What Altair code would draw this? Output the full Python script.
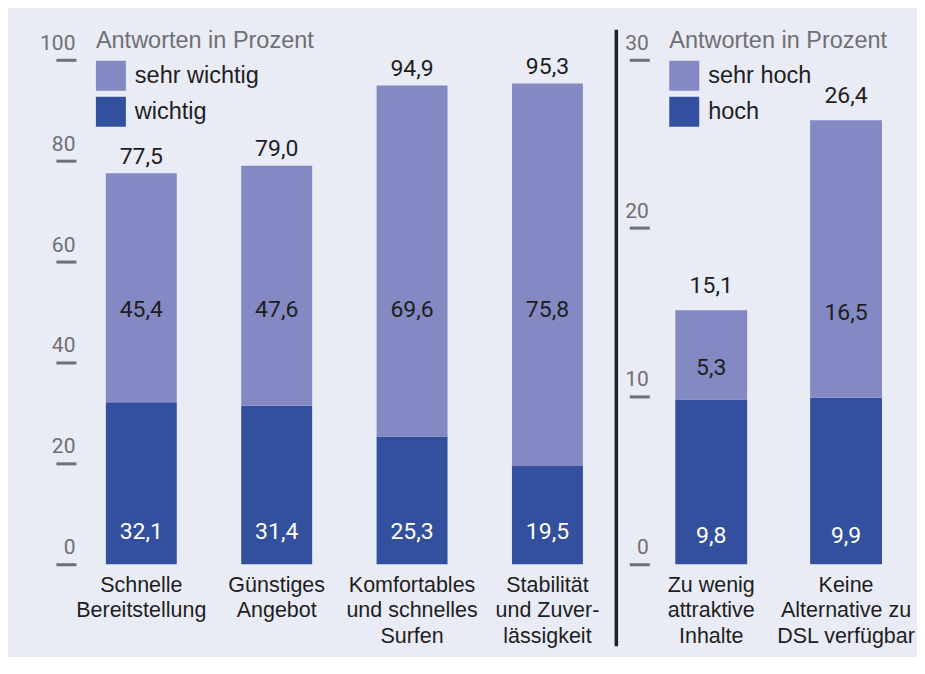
import altair as alt
import pandas as pd

# ---------------- data ----------------
left_cats = ["Schnelle|Bereitstellung", "Günstiges|Angebot",
             "Komfortables|und schnelles|Surfen", "Stabilität|und Zuver-|lässigkeit"]
left_series = ["sehr wichtig", "wichtig"]
left_wichtig = [32.1, 31.4, 25.3, 19.5]
left_sehr_wichtig = [45.4, 47.6, 69.6, 75.8]
left_total = [77.5, 79.0, 94.9, 95.3]
left_ticks = [0, 20, 40, 60, 80, 100]

right_cats = ["Zu wenig|attraktive|Inhalte", "Keine|Alternative zu|DSL verfügbar"]
right_series = ["sehr hoch", "hoch"]
right_hoch = [9.8, 9.9]
right_sehr_hoch = [5.3, 16.5]
right_total = [15.1, 26.4]
right_ticks = [0, 10, 20, 30]

legend_title = "Antworten in Prozent"

# ---------------- style ----------------
LIGHT = "#8489c3"
DARK = "#33509e"
BG = "#e9ebf5"
GRAY = "#6f6f74"
INK = "#1e1e1e"
NUM_FONT = "Roboto"
TXT_FONT = "Liberation Sans"
H = 505


def bar_frame(cats, dark_vals, light_vals, series):
    rows = []
    for c, a, b in zip(cats, dark_vals, light_vals):
        rows.append({"cat": c, "series": series[1], "lo": 0.0, "hi": a, "v": a, "part": "bottom"})
        rows.append({"cat": c, "series": series[0], "lo": a, "hi": a + b, "v": b, "part": "middle"})
    return pd.DataFrame(rows)


def panel(cats, dark_vals, light_vals, totals, series, ticks, ymax, width,
          pad_inner, pad_outer, bottom_px, total_dy, mid_px=None, mid_calc=None,
          separator_x=None):
    df = bar_frame(cats, dark_vals, light_vals, series)
    tot = pd.DataFrame({"cat": cats, "v": totals})
    fmt = "replace(format(datum.v, '.1f'), '.', ',')"

    x = alt.X("cat:N", sort=cats,
              scale=alt.Scale(paddingInner=pad_inner, paddingOuter=pad_outer),
              axis=alt.Axis(title=None, labelExpr="split(datum.label, '|')",
                            labelAngle=0, ticks=False, domain=False,
                            labelFont=TXT_FONT, labelFontSize=21.5, labelColor=INK,
                            labelPadding=10, labelLineHeight=25.8,
                            labelBaseline="top", labelOverlap=False, labelLimit=300))
    yscale = alt.Scale(domain=[0, ymax], nice=False, zero=True)
    yaxis = alt.Axis(title=None, values=ticks, grid=False, domain=False,
                     tickSize=20, tickWidth=3, tickColor=GRAY,
                     labelFont=NUM_FONT, labelFontSize=21, labelColor=GRAY,
                     labelAlign="right", labelBaseline="alphabetic",
                     labelOffset=-10.5, labelPadding=-19)

    base = alt.Chart(df)
    bars = base.mark_bar().encode(
        x=x,
        y=alt.Y("lo:Q", scale=yscale, axis=yaxis),
        y2="hi:Q",
        color=alt.Color("series:N",
                        scale=alt.Scale(domain=series, range=[LIGHT, DARK]),
                        legend=alt.Legend(
                            title=legend_title, orient="none", legendX=20, legendY=-31,
                            direction="vertical", padding=0,
                            titleFont=TXT_FONT, titleFontSize=23.5, titleColor=GRAY,
                            titleFontWeight="normal", titleBaseline="top",
                            titlePadding=8.5, titleLimit=400,
                            labelFont=TXT_FONT, labelFontSize=23.5, labelColor=INK,
                            labelOffset=9, labelLimit=300,
                            symbolType="square", symbolSize=900, symbolStrokeWidth=0,
                            symbolOpacity=1, rowPadding=6)),
    )

    mid_base = base.transform_filter("datum.part == 'middle'").transform_calculate(lab=fmt)
    if mid_calc is not None:
        mid_base = mid_base.transform_calculate(ypos=mid_calc)
        mid_y = alt.Y("ypos:Q", scale=yscale)
    else:
        mid_y = alt.value(mid_px)
    mid = mid_base.mark_text(font=NUM_FONT, fontSize=23, color=INK,
                             baseline="alphabetic").encode(
        x=alt.X("cat:N", sort=cats), y=mid_y, text="lab:N")

    bot = base.transform_filter("datum.part == 'bottom'").transform_calculate(
        lab=fmt).mark_text(font=NUM_FONT, fontSize=23, color="white",
                           baseline="alphabetic").encode(
        x=alt.X("cat:N", sort=cats), y=alt.value(bottom_px), text="lab:N")

    top = alt.Chart(tot).transform_calculate(lab=fmt).mark_text(
        font=NUM_FONT, fontSize=23, color=INK, baseline="alphabetic",
        dy=total_dy).encode(
        x=alt.X("cat:N", sort=cats), y=alt.Y("v:Q", scale=yscale), text="lab:N")

    layers = [bars, mid, bot, top]
    if separator_x is not None:
        sep = alt.Chart(pd.DataFrame({"s": [0]})).mark_rule(
            color="#222222", strokeWidth=3.5).encode(
            x=alt.value(separator_x), y=alt.value(-30), y2=alt.value(587))
        layers.append(sep)
    return alt.layer(*layers).properties(width=width, height=H)


left = panel(left_cats, left_wichtig, left_sehr_wichtig, left_total, left_series,
             left_ticks, 100, 537.5, 0.476, 0.221,
             bottom_px=480, total_dy=-9.5, mid_px=257)

right = panel(right_cats, right_hoch, right_sehr_hoch, right_total, right_series,
              right_ticks, 30, 259, 0.467, 0.193,
              bottom_px=483.3, total_dy=-17,
              mid_calc="datum.lo + datum.v * 0.28", separator_x=-33)

chart = alt.hconcat(left, right, spacing=1).resolve_scale(
    color="independent", y="independent", x="independent"
).properties(
    padding={"left": 31, "top": 19.5, "right": 2, "bottom": 8.5}
).configure(background=BG).configure_view(stroke=None)

chart.save("out.html", embed_options={"renderer": "svg", "actions": False})
